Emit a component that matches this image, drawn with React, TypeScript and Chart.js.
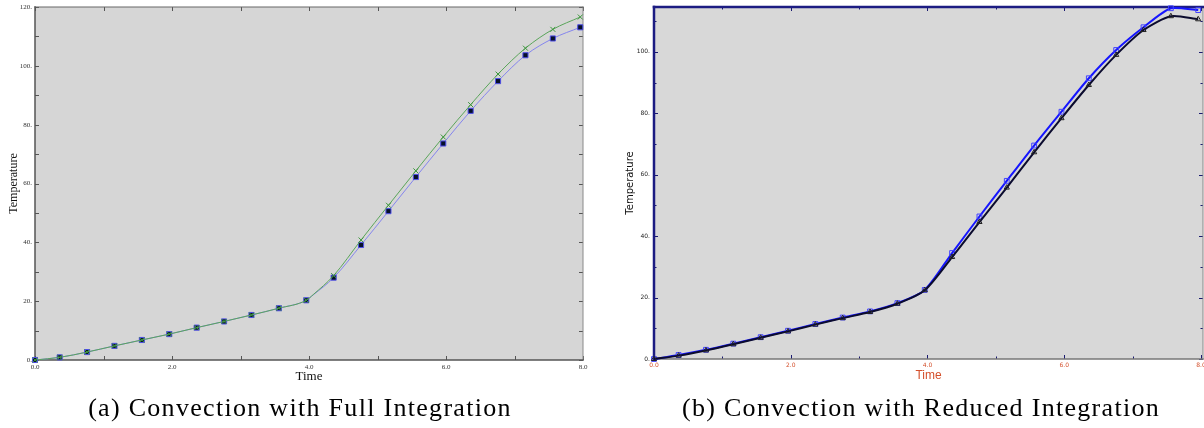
import React, { useEffect, useRef } from 'react';
import { Chart, registerables } from 'chart.js';

Chart.register(...registerables);

// ---------- data ----------
const fullTime = [0, 0.36, 0.76, 1.16, 1.56, 1.96, 2.36, 2.76, 3.16, 3.56, 3.96, 4.06, 4.36, 4.76, 5.16, 5.56, 5.96, 6.36, 6.76, 7.16, 7.56, 7.96];
const fullUnmarkedIndex = 11;
const fullBlue = [0, 0.9, 2.7, 4.8, 6.8, 8.8, 11.0, 13.1, 15.3, 17.6, 20.3, 22.1, 28.0, 39.1, 50.6, 62.2, 73.6, 84.7, 94.8, 103.6, 109.3, 113.1];
const fullGreen = [0, 0.9, 2.7, 4.8, 6.8, 8.8, 11.0, 13.1, 15.3, 17.6, 20.3, 22.2, 28.7, 40.8, 52.6, 64.3, 75.8, 86.8, 97.2, 106.0, 112.4, 116.6];

const reducedTime = [0, 0.36, 0.76, 1.16, 1.56, 1.96, 2.36, 2.76, 3.16, 3.56, 3.96, 4.36, 4.76, 5.16, 5.56, 5.96, 6.36, 6.76, 7.16, 7.56, 7.96];
const reducedBlue = [0, 1.3, 3.0, 5.0, 7.1, 9.2, 11.4, 13.5, 15.5, 18.2, 22.5, 34.5, 46.4, 58.0, 69.5, 80.5, 91.4, 100.6, 108.0, 114.2, 113.6];
const reducedBlack = [0, 1.1, 2.8, 4.8, 6.9, 9.0, 11.2, 13.3, 15.3, 18.0, 22.4, 33.2, 44.6, 55.8, 67.3, 78.4, 89.2, 99.0, 107.1, 111.6, 110.6];

const timeTickLabels = ['0.0', '2.0', '4.0', '6.0', '8.0'];
const tempTickLabels = ['0.', '20.', '40.', '60.', '80.', '100.', '120.'];

const captionA = '(a) Convection with Full Integration';
const captionB = '(b) Convection with Reduced Integration';

// ---------- helpers ----------
const pts = (xs: number[], ys: number[]) => xs.map((x, i) => ({ x, y: ys[i] }));

const framePlugin = {
  id: 'frame',
  beforeDraw(chart: any, _a: any, o: any) {
    const { ctx, chartArea: a } = chart;
    ctx.save();
    ctx.fillStyle = o.bg;
    ctx.fillRect(a.left, a.top, a.right - a.left, a.bottom - a.top);
    ctx.restore();
  },
  beforeDatasetsDraw(chart: any, _a: any, o: any) {
    const { ctx, chartArea: a, scales } = chart;
    const xs = scales.x;
    const ys = scales.y;
    ctx.save();
    ctx.strokeStyle = o.tickColor;
    ctx.lineWidth = 1;
    const seg = (x1: number, y1: number, x2: number, y2: number) => {
      ctx.beginPath();
      ctx.moveTo(x1, y1);
      ctx.lineTo(x2, y2);
      ctx.stroke();
    };
    xs.ticks.forEach((t: any) => {
      const px = Math.round(xs.getPixelForValue(t.value)) + 0.5;
      const len = Math.abs(t.value % 2) < 1e-6 ? o.major : o.minor;
      seg(px, a.bottom, px, a.bottom - len);
      seg(px, a.top, px, a.top + len);
    });
    ys.ticks.forEach((t: any) => {
      const py = Math.round(ys.getPixelForValue(t.value)) + 0.5;
      const len = Math.abs(t.value % 20) < 1e-6 ? o.major : o.minor;
      seg(a.left, py, a.left + len, py);
      seg(a.right, py, a.right - len, py);
    });
    // spines
    ctx.lineCap = 'square';
    ctx.strokeStyle = o.rightColor; ctx.lineWidth = o.rightWidth;
    seg(a.right, a.top, a.right, a.bottom);
    ctx.strokeStyle = o.bottomColor; ctx.lineWidth = o.bottomWidth;
    seg(a.left, a.bottom, a.right, a.bottom);
    ctx.strokeStyle = o.topColor; ctx.lineWidth = o.topWidth;
    seg(a.left, a.top, a.right, a.top);
    ctx.strokeStyle = o.leftColor; ctx.lineWidth = o.leftWidth;
    seg(a.left, a.top, a.left, a.bottom);
    ctx.restore();
  },
};

function onlyStep(step: number) {
  return (s: any) => {
    s.ticks = s.ticks.filter((t: any) => Math.abs(t.value / step - Math.round(t.value / step)) < 1e-6);
  };
}

function fullConfig(): any {
  return {
    type: 'line',
    data: {
      datasets: [
        {
          data: pts(fullTime, fullGreen),
          borderColor: '#5aa55a',
          borderWidth: 1,
          pointStyle: 'crossRot',
          pointRadius: fullTime.map((_, i) => (i === fullUnmarkedIndex ? 0 : 3.5)),
          pointBorderColor: '#3b963b',
          pointBorderWidth: 1,
          pointBackgroundColor: 'rgba(0,0,0,0)',
          cubicInterpolationMode: 'monotone',
          clip: false,
          order: 0,
        },
        {
          data: pts(fullTime, fullBlue),
          borderColor: '#8585ee',
          borderWidth: 1,
          pointStyle: 'rect',
          pointRadius: fullTime.map((_, i) => (i === fullUnmarkedIndex ? 0 : 3.6)),
          pointBorderColor: '#4f4fe8',
          pointBorderWidth: 1,
          pointBackgroundColor: '#06102a',
          cubicInterpolationMode: 'monotone',
          clip: false,
          order: 1,
        },
      ],
    },
    options: {
      animation: false,
      responsive: false,
      devicePixelRatio: 1,
      layout: { padding: { top: 7, right: 17, left: 0, bottom: 0 } },
      plugins: {
        legend: { display: false },
        tooltip: { enabled: false },
        frame: {
          bg: '#d6d6d6', tickColor: '#555', major: 4, minor: 4,
          leftColor: '#555', leftWidth: 1.5, bottomColor: '#555', bottomWidth: 1.5,
          topColor: '#666', topWidth: 1, rightColor: '#8a8a8a', rightWidth: 1,
        },
      },
      scales: {
        x: {
          type: 'linear', min: 0, max: 8,
          afterFit: (s: any) => { s.height = 35; s.paddingLeft = 0; s.paddingRight = 0; },
          afterBuildTicks: onlyStep(1),
          grid: { display: false, drawTicks: false },
          border: { display: false },
          ticks: {
            stepSize: 1, autoSkip: false, maxRotation: 0, padding: 3, includeBounds: false,
            font: { family: 'Liberation Serif', size: 7 }, color: '#333',
            callback: (v: number) => (Math.abs(v % 2) < 1e-6 ? timeTickLabels[Math.round(v / 2)] : ''),
          },
          title: {
            display: true, text: 'Time', color: '#111',
            font: { family: 'Liberation Serif', size: 13, lineHeight: 1.2 },
            padding: { top: 0, bottom: 11 },
          },
        },
        y: {
          type: 'linear', min: 0, max: 120,
          afterFit: (s: any) => { s.width = 35; s.paddingTop = 0; s.paddingBottom = 0; },
          afterBuildTicks: onlyStep(10),
          grid: { display: false, drawTicks: false },
          border: { display: false },
          ticks: {
            stepSize: 10, autoSkip: false, padding: 3, includeBounds: false,
            font: { family: 'Liberation Serif', size: 7 }, color: '#333',
            callback: (v: number) => (Math.abs(v % 20) < 1e-6 ? tempTickLabels[Math.round(v / 20)] : ''),
          },
          title: {
            display: true, text: 'Temperature', color: '#111',
            font: { family: 'Liberation Serif', size: 12, lineHeight: 1.2 },
            padding: { top: 7, bottom: 0 },
          },
        },
      },
    },
    plugins: [framePlugin],
  };
}

function reducedConfig(): any {
  return {
    type: 'line',
    data: {
      datasets: [
        {
          data: pts(reducedTime, reducedBlack),
          borderColor: '#0b0b2e',
          borderWidth: 2,
          pointStyle: 'triangle',
          pointRadius: 3,
          pointBorderColor: '#222',
          pointBorderWidth: 1,
          pointBackgroundColor: 'rgba(0,0,0,0)',
          tension: 0.25,
          clip: false,
          order: 0,
        },
        {
          data: pts(reducedTime, reducedBlue),
          borderColor: '#1515ff',
          borderWidth: 2,
          pointStyle: 'rect',
          pointRadius: 3.4,
          pointBorderColor: '#4040ff',
          pointBorderWidth: 1,
          pointBackgroundColor: 'rgba(0,0,0,0)',
          tension: 0.25,
          clip: false,
          order: 1,
        },
      ],
    },
    options: {
      animation: false,
      responsive: false,
      devicePixelRatio: 1,
      layout: { padding: { top: 7, right: 1, left: 0, bottom: 0 } },
      plugins: {
        legend: { display: false },
        tooltip: { enabled: false },
        frame: {
          bg: '#d8d8d8', tickColor: '#1a1a70', major: 4, minor: 2.5,
          leftColor: '#1c1c82', leftWidth: 2.5, bottomColor: '#777', bottomWidth: 1.5,
          topColor: '#1c1c82', topWidth: 2.5, rightColor: '#888', rightWidth: 1,
        },
      },
      scales: {
        x: {
          type: 'linear', min: 0, max: 8.03,
          afterFit: (s: any) => { s.height = 36; s.paddingLeft = 0; s.paddingRight = 0; },
          afterBuildTicks: onlyStep(1),
          grid: { display: false, drawTicks: false },
          border: { display: false },
          ticks: {
            stepSize: 1, autoSkip: false, maxRotation: 0, padding: 3, includeBounds: false,
            font: { family: 'DejaVu Sans', size: 6 }, color: '#d4502c',
            callback: (v: number) => (Math.abs(v % 2) < 1e-6 ? timeTickLabels[Math.round(v / 2)] : ''),
          },
          title: {
            display: true, text: 'Time', color: '#d4502c',
            font: { family: 'Liberation Sans', size: 12, lineHeight: 1.2 },
            padding: { top: 0, bottom: 12 },
          },
        },
        y: {
          type: 'linear', min: 0, max: 114.6,
          afterFit: (s: any) => { s.width = 54; s.paddingTop = 0; s.paddingBottom = 0; },
          afterBuildTicks: onlyStep(10),
          grid: { display: false, drawTicks: false },
          border: { display: false },
          ticks: {
            stepSize: 10, autoSkip: false, padding: 4, includeBounds: false,
            font: { family: 'DejaVu Sans', size: 6 }, color: '#222',
            callback: (v: number) => (Math.abs(v % 20) < 1e-6 ? tempTickLabels[Math.round(v / 20)] : ''),
          },
          title: {
            display: true, text: 'Temperature', color: '#111',
            font: { family: 'DejaVu Sans', size: 10, lineHeight: 1.2 },
            padding: { top: 24, bottom: 0 },
          },
        },
      },
    },
    plugins: [framePlugin],
  };
}

function ChartCanvas({ make, left, width, height }: { make: () => any; left: number; width: number; height: number }) {
  const ref = useRef<HTMLCanvasElement>(null);
  useEffect(() => {
    const chart = new Chart(ref.current as HTMLCanvasElement, make());
    return () => chart.destroy();
  }, [make]);
  return (
    <canvas
      ref={ref}
      width={width}
      height={height}
      style={{ position: 'absolute', left, top: 0, width, height, display: 'block' }}
    />
  );
}

const captionStyle: React.CSSProperties = {
  position: 'absolute',
  top: 393,
  fontFamily: '"Liberation Serif", serif',
  fontSize: 26,
  lineHeight: '30px',
  letterSpacing: '1.3px',
  color: '#000',
  textAlign: 'center',
  whiteSpace: 'nowrap',
};

export default function App() {
  return (
    <div style={{ position: 'absolute', left: 0, top: 0, width: 1204, height: 428, background: '#fff', overflow: 'hidden' }}>
      <ChartCanvas make={fullConfig} left={0} width={600} height={395} />
      <ChartCanvas make={reducedConfig} left={600} width={608} height={395} />
      <div style={{ ...captionStyle, left: 0, width: 600 }}>{captionA}</div>
      <div style={{ ...captionStyle, left: 642, width: 558 }}>{captionB}</div>
    </div>
  );
}
